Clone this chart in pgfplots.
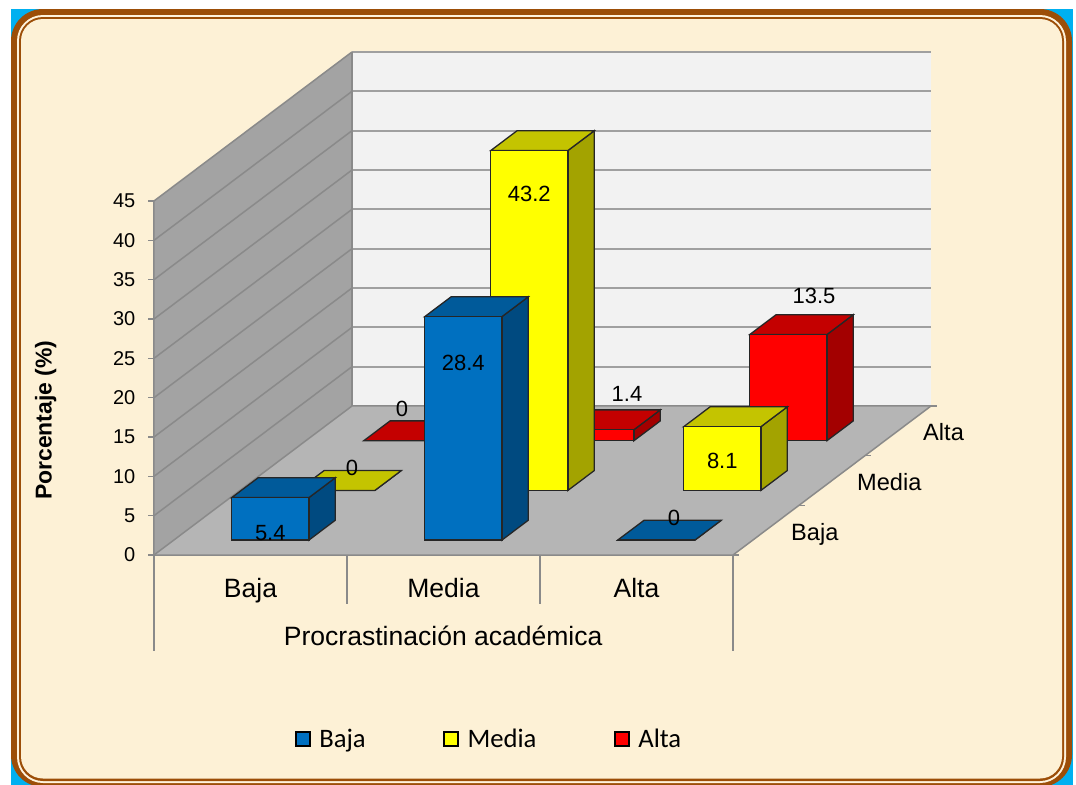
\documentclass[border=0pt]{standalone}
\usepackage{pgfplots}
\pgfplotsset{compat=1.18}
\usepackage{fontspec}
\setmainfont{Liberation Sans}
\newfontfamily\legendfont{Carlito}

\def\px{0.75pt}
\definecolor{framebrown}{HTML}{9C4E08}
\definecolor{framelight}{HTML}{FFF3DC}
\definecolor{cornerblue}{HTML}{00B0F0}
\definecolor{parchment}{HTML}{FDF1D6}
\definecolor{wallleft}{HTML}{A3A3A3}
\definecolor{wallback}{HTML}{F2F2F2}
\definecolor{floorgray}{HTML}{B5B5B5}
\definecolor{rulegray}{HTML}{8A8A8A}
\definecolor{backrule}{HTML}{A0A0A0}
\definecolor{bluefront}{HTML}{0070C0}
\definecolor{bluetop}{HTML}{005A9A}
\definecolor{blueside}{HTML}{004A80}
\definecolor{yellowfront}{HTML}{FFFF00}
\definecolor{yellowtop}{HTML}{C4C400}
\definecolor{yellowside}{HTML}{A3A300}
\definecolor{redfront}{HTML}{FF0000}
\definecolor{redtop}{HTML}{C40000}
\definecolor{redside}{HTML}{A30000}

% One column of the chart: x0 x1 y0 y1 height colour
\newcommand{\cuboid}[6]{%
  \addplot3[face,fill=#6side] coordinates {(#2,#3,0) (#2,#4,0) (#2,#4,#5) (#2,#3,#5)} -- cycle;
  \addplot3[face,fill=#6top] coordinates {(#1,#3,#5) (#2,#3,#5) (#2,#4,#5) (#1,#4,#5)} -- cycle;
  \addplot3[face,fill=#6front] coordinates {(#1,#3,0) (#2,#3,0) (#2,#3,#5) (#1,#3,#5)} -- cycle;
}

\begin{document}
\begin{tikzpicture}[x=\px,y=-\px]
  \path[use as bounding box] (0,0) rectangle (1076,785);
  \begin{scope}
    \clip (0,0) rectangle (1076,785);
    \fill[white] (0,0) rectangle (1076,785);
    \fill[cornerblue] (11,9) rectangle (1073,790);
    \fill[framebrown,rounded corners=32*\px] (11,9) rectangle (1072,787);
    \fill[framelight,rounded corners=26*\px] (17,15) rectangle (1066,783);
    \fill[framebrown,rounded corners=24*\px] (19,17) rectangle (1064,781);
    \fill[parchment,rounded corners=22*\px] (21,19) rectangle (1062,778.5);
  \end{scope}

  \begin{axis}[
    at={(154*\px,-555*\px)}, anchor=origin,
    x={(193*\px,0)}, y={(66*\px,49.67*\px)}, z={(0,7.867*\px)},
    xmin=0, xmax=3, ymin=0, ymax=3, zmin=0, zmax=45,
    clip=false,
    axis x line*=bottom, axis y line*=left, axis z line*=left,
    axis line style={draw=none}, tick style={draw=none},
    major tick length=0pt,
    xtick={0.5,1.5,2.5}, xticklabels={Baja,Media,Alta},
    ytick={0.5,1.5,2.5}, yticklabels={Baja,Media,Alta},
    ztick={0,5,...,45},
    /pgf/number format/assume math mode=true,
    tick label style={font=\fontsize{15}{16}\selectfont},
    xticklabel style={font=\fontsize{19.9}{22}\selectfont,anchor=center,yshift=-36*\px,
      text height=14pt,text depth=4pt},
    yticklabel style={font=\fontsize{17.7}{20}\selectfont,anchor=west,xshift=20.5*\px,yshift=-3.5*\px,
      text height=13pt,text depth=3.5pt},
    zticklabel style={anchor=east,xshift=-14*\px},
    xlabel={Procrastinación académica},
    every axis x label/.style={at={(rel axis cs:0.4995,0,-0.229)},anchor=center,font=\fontsize{19.9}{22}\selectfont},
    ylabel={},
    zlabel={Porcentaje (\%)},
    every axis z label/.style={at={(rel axis cs:-0.187,0,0.381)},anchor=center,rotate=90,font=\bfseries\fontsize{17.2}{19}\selectfont},
    face/.style={draw=black!85,line width=1.3*\px,forget plot},
    gridline/.style={draw=#1,line width=1.5*\px,forget plot},
    legend image code/.code={\draw[#1,line width=1.1pt] (0pt,-5.25pt) rectangle (10.5pt,5.25pt);},
    legend style={at={(axis cs:1.7386,0,-23.4)},anchor=center,draw=none,fill=none,
      font=\legendfont\fontsize{20}{22}\selectfont,
      legend columns=3,
      /tikz/every even column/.append style={column sep=75*\px},
      /tikz/every odd column/.append style={column sep=6*\px}},
  ]
    % walls and floor
    \addplot3[draw=none,fill=wallback,forget plot] coordinates {(0,3,0) (3,3,0) (3,3,45) (0,3,45)} -- cycle;
    \addplot3[draw=none,fill=wallleft,forget plot] coordinates {(0,0,0) (0,3,0) (0,3,45) (0,0,45)} -- cycle;
    \addplot3[draw=none,fill=floorgray,forget plot] coordinates {(0,0,0) (3,0,0) (3,3,0) (0,3,0)} -- cycle;
    % horizontal rules across the walls
    \pgfplotsinvokeforeach{5,10,...,45}{
      \addplot3[gridline=rulegray] coordinates {(0,0,#1) (0,3,#1)};
      \addplot3[gridline=backrule,line width=1.9*\px] coordinates {(0,3,#1) (3,3,#1)};
    }
    % outline of the box
    \addplot3[gridline=rulegray] coordinates {(0,3,45) (0,3,0)};
    \addplot3[gridline=rulegray] coordinates {(0,0,45) (0,0,0) (3,0,0) (3,3,0)};
    \addplot3[gridline=rulegray] coordinates {(0,0,0) (0,3,0) (3,3,0)};
    % tick marks on the value axis
    \pgfplotsinvokeforeach{0,5,...,45}{
      \addplot3[gridline=rulegray] coordinates {(-0.031,0,#1) (0,0,#1)};
    }
    % tick marks along the depth axis
    \pgfplotsinvokeforeach{0,1,2,3}{
      \addplot3[gridline=rulegray] coordinates {(3,#1,0) (3.031,#1,0)};
    }
    % separators under the categories
    \addplot3[gridline=rulegray] coordinates {(0,0,0) (0,0,-12.2)};
    \addplot3[gridline=rulegray] coordinates {(1,0,0) (1,0,-6.2)};
    \addplot3[gridline=rulegray] coordinates {(2,0,0) (2,0,-6.2)};
    \addplot3[gridline=rulegray] coordinates {(3,0,0) (3,0,-12.2)};

    % back row: Alta
    \cuboid{0.3}{0.7}{2.3}{2.7}{0}{red}
    \cuboid{1.3}{1.7}{2.3}{2.7}{1.4}{red}
    \cuboid{2.3}{2.7}{2.3}{2.7}{13.5}{red}
    % middle row: Media
    \cuboid{0.3}{0.7}{1.3}{1.7}{0}{yellow}
    \cuboid{1.3}{1.7}{1.3}{1.7}{43.2}{yellow}
    \cuboid{2.3}{2.7}{1.3}{1.7}{8.1}{yellow}
    % front row: Baja
    \cuboid{0.3}{0.7}{0.3}{0.7}{5.4}{blue}
    \cuboid{1.3}{1.7}{0.3}{0.7}{28.4}{blue}
    \cuboid{2.3}{2.7}{0.3}{0.7}{0}{blue}

    % value labels
    \begin{scope}[every node/.style={font=\fontsize{16.5}{18}\selectfont,inner sep=0pt}]
      \node[yshift=-35.4*\px] at (axis cs:0.5,0.3,5.4) {5.4};
      \node[yshift=-46*\px] at (axis cs:1.5,0.3,28.4) {28.4};
      \node[xshift=4.5*\px,yshift=12*\px] at (axis cs:2.5,0.5,0) {0};
      \node[xshift=2.5*\px,yshift=12.5*\px] at (axis cs:0.5,1.5,0) {0};
      \node[yshift=-43.5*\px] at (axis cs:1.5,1.3,43.2) {43.2};
      \node[yshift=-34*\px] at (axis cs:2.5,1.3,8.1) {8.1};
      \node[xshift=-13.5*\px,yshift=22*\px] at (axis cs:0.5,2.5,0) {0};
      \node[xshift=18.5*\px,yshift=26*\px] at (axis cs:1.5,2.5,1.4) {1.4};
      \node[xshift=12.5*\px,yshift=29*\px] at (axis cs:2.5,2.5,13.5) {13.5};
    \end{scope}

    \addlegendimage{fill=bluefront,draw=black}
    \addlegendentry{Baja}
    \addlegendimage{fill=yellowfront,draw=black}
    \addlegendentry{Media}
    \addlegendimage{fill=redfront,draw=black}
    \addlegendentry{Alta}
  \end{axis}
\end{tikzpicture}
\end{document}
